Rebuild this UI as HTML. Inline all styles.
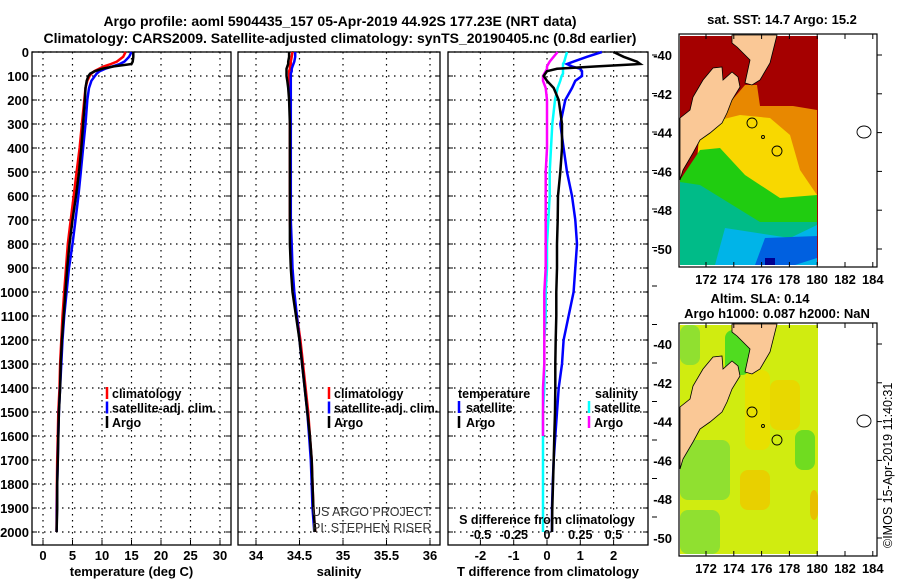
<!DOCTYPE html>
<html><head><meta charset="utf-8"><style>
body{margin:0;background:#fff}
svg text{font-family:"Liberation Sans",sans-serif;font-weight:bold}
svg text.thin{font-weight:normal}
</style></head><body>
<svg id="s" width="900" height="580" viewBox="0 0 900 580" xmlns="http://www.w3.org/2000/svg">
<rect width="900" height="580" fill="#fff"/>
<text x="340" y="26" font-size="14" text-anchor="middle">Argo profile: aoml 5904435_157 05-Apr-2019 44.92S 177.23E (NRT data)</text>
<text x="340" y="43" font-size="14" text-anchor="middle">Climatology: CARS2009. Satellite-adjusted climatology: synTS_20190405.nc (0.8d earlier)</text>
<g id="maps"></g>
<g id="panels"></g>
</svg>
<script>
const depths=[0,20,40,50,60,70,80,90,100,120,150,200,300,400,500,600,700,800,900,1000,1100,1200,1300,1400,1500,1600,1700,1800,1900,2000];
const tempArgo=[15.3,15.3,15.2,15.0,12,10,8.8,8.0,7.7,7.4,7.2,7.1,6.8,6.5,6.1,5.6,5.0,4.5,4.1,3.8,3.5,3.2,3.0,2.9,2.7,2.6,2.5,2.4,2.4,2.3];
const tempClim=[14.0,13.6,12.5,11.5,10.3,9.5,8.7,8.2,7.9,7.5,7.2,7.0,6.6,6.2,5.7,5.2,4.7,4.2,3.9,3.6,3.3,3.1,2.9,2.8,2.6,2.5,2.4,2.35,2.3,2.3];
const tempSat=[15.0,14.6,13.8,13.0,11.8,10.5,9.6,9.1,8.8,8.2,7.8,7.5,7.2,6.8,6.4,6.0,5.5,5.0,4.4,4.0,3.6,3.3,3.1,2.9,2.7,2.6,2.5,2.4,2.35,2.3];
const salArgo=[34.38,34.38,34.37,34.37,34.36,34.35,34.35,34.35,34.35,34.36,34.37,34.38,34.39,34.39,34.39,34.39,34.39,34.39,34.4,34.42,34.46,34.5,34.53,34.56,34.59,34.62,34.64,34.65,34.66,34.68];
const salClim=[34.42,34.41,34.4,34.4,34.39,34.39,34.38,34.38,34.38,34.38,34.38,34.39,34.39,34.39,34.39,34.39,34.39,34.4,34.41,34.43,34.47,34.51,34.54,34.57,34.6,34.62,34.64,34.65,34.66,34.68];
const salSat=[34.45,34.45,34.44,34.43,34.42,34.41,34.41,34.4,34.4,34.4,34.4,34.4,34.4,34.4,34.4,34.4,34.4,34.41,34.42,34.44,34.47,34.5,34.53,34.56,34.59,34.61,34.63,34.64,34.65,34.67];
const tDiffArgo=[2.0,2.3,2.7,2.8,1.5,0.3,0.0,-0.05,-0.1,0.0,0.2,0.35,0.45,0.45,0.4,0.33,0.32,0.3,0.3,0.28,0.28,0.26,0.25,0.25,0.24,0.22,0.2,0.18,0.16,0.15];
const tDiffSat=[1.65,1.2,0.8,0.6,0.75,1.0,1.05,1.05,1.05,0.85,0.75,0.55,0.4,0.5,0.6,0.75,0.85,0.9,0.85,0.8,0.65,0.5,0.45,0.35,0.3,0.25,0.2,0.17,0.15,0.15];
const sDiffArgo=[0.08,0.05,0.02,0.01,0.0,0.0,-0.01,-0.02,-0.03,-0.03,-0.01,0.0,0.0,0.0,-0.01,-0.01,-0.01,-0.01,-0.01,-0.02,-0.02,-0.02,-0.02,-0.03,-0.03,-0.03,null,null,null,null];
const sDiffSat=[0.15,0.14,0.13,0.12,0.12,0.12,0.12,0.12,0.11,0.1,0.08,0.06,0.04,0.03,0.02,0.02,0.01,0.0,0.0,-0.01,-0.01,-0.02,-0.02,-0.02,-0.03,-0.03,-0.03,-0.03,-0.03,-0.03];
const depthTicks=[0,100,200,300,400,500,600,700,800,900,1000,1100,1200,1300,1400,1500,1600,1700,1800,1900,2000];
const tempTicks=[0,5,10,15,20,25,30];
const salTicks=[34,34.5,35,35.5,36];
const tdTicks=[-2,-1,0,1,2];
const sdTicks=[-0.5,-0.25,0,0.25,0.5];
const sdTickLabels=["-0.5","-0.25","0","0.25","0.5"];
const lonTicks=[172,174,176,178,180,182,184];
const latTicks=[-40,-42,-44,-46,-48,-50];

const NS='http://www.w3.org/2000/svg';
function mk(p,tag,at){const e=document.createElementNS(NS,tag);for(const k in at)e.setAttribute(k,at[k]);p.appendChild(e);return e;}
const panels=document.getElementById('panels');
const yD=d=>52+d*0.24;
const tempX=v=>43+v*5.9, salX=v=>256+(v-34)*87, tdX=v=>547+v*33.3, sdX=v=>547+v*133;

function panel(name,x0,x1,ticks,xf,labels,xlabel){
  const g=mk(panels,'g',{});
  
  
  depthTicks.forEach(d=>{const l=mk(g,'line',{x1:x0,x2:x1,y1:yD(d),y2:yD(d),stroke:'#000','stroke-dasharray':'1.5 4.5','stroke-width':1.2});
    
    
    mk(g,'line',{x1:x0,x2:x0+5,y1:yD(d),y2:yD(d),stroke:'#000'});mk(g,'line',{x1:x1-5,x2:x1,y1:yD(d),y2:yD(d),stroke:'#000'});});
  ticks.forEach((t,i)=>{const x=xf(t);const l=mk(g,'line',{x1:x,x2:x,y1:52,y2:545,stroke:'#000','stroke-dasharray':'1.5 4.5','stroke-width':1.2});
    
    
    mk(g,'line',{x1:x,x2:x,y1:545,y2:540,stroke:'#000'});
    const tx=mk(g,'text',{x:x,y:560,'font-size':13,'text-anchor':'middle'});tx.textContent=labels?labels[i]:t;
    
    });
  const r=mk(g,'rect',{x:x0,y:52,width:x1-x0,height:493,fill:'none',stroke:'#000','stroke-width':1.3});
  
  
  const xl=mk(g,'text',{x:(x0+x1)/2,y:576,'font-size':13,'text-anchor':'middle'});xl.textContent=xlabel;
  
  
  return g;
}
function line(g,vals,xf,color,name){
  let d='';let first=true;
  vals.forEach((v,i)=>{if(v===null)return;d+=(first?'M':'L')+xf(v).toFixed(1)+','+yD(depths[i]).toFixed(1);first=false;});
  const p=mk(g,'path',{d:d,fill:'none',stroke:color,'stroke-width':2.5});
  
  
}
function legend(g,x,items){
  items.forEach((it,i)=>{const y=398+i*14.5;
    mk(g,'line',{x1:x,x2:x,y1:y-11,y2:y+1,stroke:it[1],'stroke-width':2.5});
    const t=mk(g,'text',{x:x+5,y:y,'font-size':12.5});t.textContent=it[0];
    
    });
}
depthTicks.forEach(d=>{const t=mk(panels,'text',{x:29,y:yD(d)+5,'font-size':13,'text-anchor':'end'});t.textContent=d;
  
  });

const g1=panel('temperature-panel',32,231,tempTicks,tempX,null,'temperature (deg C)');
line(g1,tempClim,tempX,'#f00','temp-climatology');line(g1,tempSat,tempX,'#00f','temp-satellite');line(g1,tempArgo,tempX,'#000','temp-argo');
legend(g1,107,[['climatology','#f00'],['satellite-adj. clim.','#00f'],['Argo','#000']]);

const g2=panel('salinity-panel',238,440,salTicks,salX,null,'salinity');
line(g2,salClim,salX,'#f00','sal-climatology');line(g2,salSat,salX,'#00f','sal-satellite');line(g2,salArgo,salX,'#000','sal-argo');
legend(g2,329,[['climatology','#f00'],['satellite-adj. clim.','#00f'],['Argo','#000']]);
[['US ARGO PROJECT',516],['PI: STEPHEN RISER',532]].forEach(a=>{const t=mk(g2,'text',{x:312,y:a[1],'font-size':12.5,fill:'#333','class':'thin'});t.textContent=a[0];
  
  });

const g3=panel('difference-panel',448,648,tdTicks,tdX,null,'T difference from climatology');
line(g3,tDiffSat,tdX,'#00f','tdiff-satellite');line(g3,sDiffSat,sdX,'#0ff','sdiff-satellite');line(g3,sDiffArgo,sdX,'#f0f','sdiff-argo');line(g3,tDiffArgo,tdX,'#000','tdiff-argo');
{const t=mk(g3,'text',{x:458,y:398,'font-size':12.5});t.textContent='temperature';
 
 
 const u=mk(g3,'text',{x:595,y:398,'font-size':12.5});u.textContent='salinity';
 
 }
[['satellite','#00f',412],['Argo','#000',427]].forEach(a=>{mk(g3,'line',{x1:459,x2:459,y1:a[2]-11,y2:a[2]+1,stroke:a[1],'stroke-width':2.5});
  const t=mk(g3,'text',{x:466,y:a[2],'font-size':12.5});t.textContent=a[0];
  
  });
[['satellite','#0ff',412],['Argo','#f0f',427]].forEach(a=>{mk(g3,'line',{x1:589,x2:589,y1:a[2]-11,y2:a[2]+1,stroke:a[1],'stroke-width':2.5});
  const t=mk(g3,'text',{x:594,y:a[2],'font-size':12.5});t.textContent=a[0];
  
  });
{const t=mk(g3,'text',{x:547,y:524,'font-size':12.5,'text-anchor':'middle'});t.textContent='S difference from climatology';
 
 }
sdTicks.forEach((v,i)=>{const t=mk(g3,'text',{x:sdX(v),y:539,'font-size':12.5,'text-anchor':'middle'});t.textContent=sdTickLabels[i];
  
  });
for(let k=0;k<13;k++){mk(g3,'line',{x1:652,x2:657,y1:55+k*38.5,y2:55+k*38.5,stroke:'#000'});}

const maps=document.getElementById('maps');
function landShapes(g,dy){
  const tr=`translate(0,${dy})`;
  const L1=mk(g,'polygon',{points:'732,35 777,35 775,43 770,63 760,80 752,85 745,83 750,60 737,47 732,43',fill:'#fac896',stroke:'#000','stroke-width':0.8,transform:tr});
  
  
  const L2=mk(g,'polygon',{points:'680,118 690,110 693,97 703,80 713,68 722,67 723,80 732,72 738,77 740,87 732,100 727,113 722,123 710,133 700,140 693,153 683,170 680,180',fill:'#fac896',stroke:'#000','stroke-width':0.8,transform:tr});
  
  
  [[752,123,5],[777,151,5],[763,137,1.5]].forEach(c=>mk(g,'circle',{cx:c[0],cy:c[1]+dy,r:c[2],fill:'none',stroke:'#000','stroke-width':0.9}));
  mk(g,'ellipse',{cx:864,cy:132+dy,rx:7,ry:6,fill:'none',stroke:'#000','stroke-width':0.9});
}
function mapFrame(g,dy){
  mk(g,'rect',{x:679,y:34+dy,width:198,height:233,fill:'none',stroke:'#000','stroke-width':1.2});
  lonTicks.forEach(l=>{const x=706+(l-172)*13.9;mk(g,'line',{x1:x,x2:x,y1:267+dy,y2:262+dy,stroke:'#000'});mk(g,'line',{x1:x,x2:x,y1:34+dy,y2:39+dy,stroke:'#000'});
    const t=mk(g,'text',{x:x,y:284+dy,'font-size':13,'text-anchor':'middle'});t.textContent=l;
    
    });
  latTicks.forEach(l=>{const y=55+(-40-l)*19.4+dy;mk(g,'line',{x1:877,x2:882,y1:y,y2:y,stroke:'#000'});
    const t=mk(g,'text',{x:672,y:y+5,'font-size':13,'text-anchor':'end'});t.textContent=l;
    
    });
}
const m1=mk(maps,'g',{});


mk(m1,'rect',{x:680,y:36,width:138,height:229,fill:'#a50000'});
[['#e88800','745,85 757,85 760,106 793,106 817,110 817,200 740,200 700,160 715,120'],
 ['#f8d800','700,125 740,115 770,118 790,135 800,170 817,195 817,200 800,205 790,230 740,212 695,185'],
 ['#20cc10','680,180 700,150 720,148 745,175 780,198 817,195 817,222 790,238 760,222 700,232 680,230'],
 ['#00bb88','680,182 700,185 760,222 817,222 817,265 680,265'],
 ['#00b4e8','725,228 790,238 817,225 817,265 715,265'],
 ['#0060e0','765,238 817,236 817,258 795,265 755,265'],
 ['#000090','765,258 775,258 775,265 765,265']].forEach(a=>mk(m1,'polygon',{points:a[1],fill:a[0]}));
landShapes(m1,0);mapFrame(m1,0);
{const t=mk(m1,'text',{x:782,y:24,'font-size':13,'text-anchor':'middle'});t.textContent='sat. SST: 14.7 Argo: 15.2';
 
 }
const m2=mk(maps,'g',{});


mk(m2,'rect',{x:680,y:325,width:138,height:229,fill:'#d0ec10'});
[['#90e030',[680,325,20,40]],['#50dc20',[725,330,25,45]],['#e8e000',[745,370,25,80]],['#90e030',[680,440,50,60]],['#e8d800',[770,380,30,50]],['#70dc20',[795,430,20,40]],['#e8d000',[740,470,30,40]],['#90e030',[680,510,40,44]],['#e8c000',[810,490,8,30]]].forEach(a=>mk(m2,'rect',{x:a[1][0],y:a[1][1],width:a[1][2],height:a[1][3],fill:a[0],rx:8}));
landShapes(m2,289);mapFrame(m2,289);
{const t=mk(m2,'text',{x:760,y:303,'font-size':13,'text-anchor':'middle'});t.textContent='Altim. SLA: 0.14';
 
 
 const u=mk(m2,'text',{x:777,y:318,'font-size':13,'text-anchor':'middle'});u.textContent='Argo h1000: 0.087 h2000: NaN';
 
 }
{const t=mk(maps,'text',{x:892,y:548,'font-size':12.5,'class':'thin',transform:'rotate(-90 892 548)'});t.textContent='©IMOS 15-Apr-2019 11:40:31';
 
 }
</script>
</body></html>
